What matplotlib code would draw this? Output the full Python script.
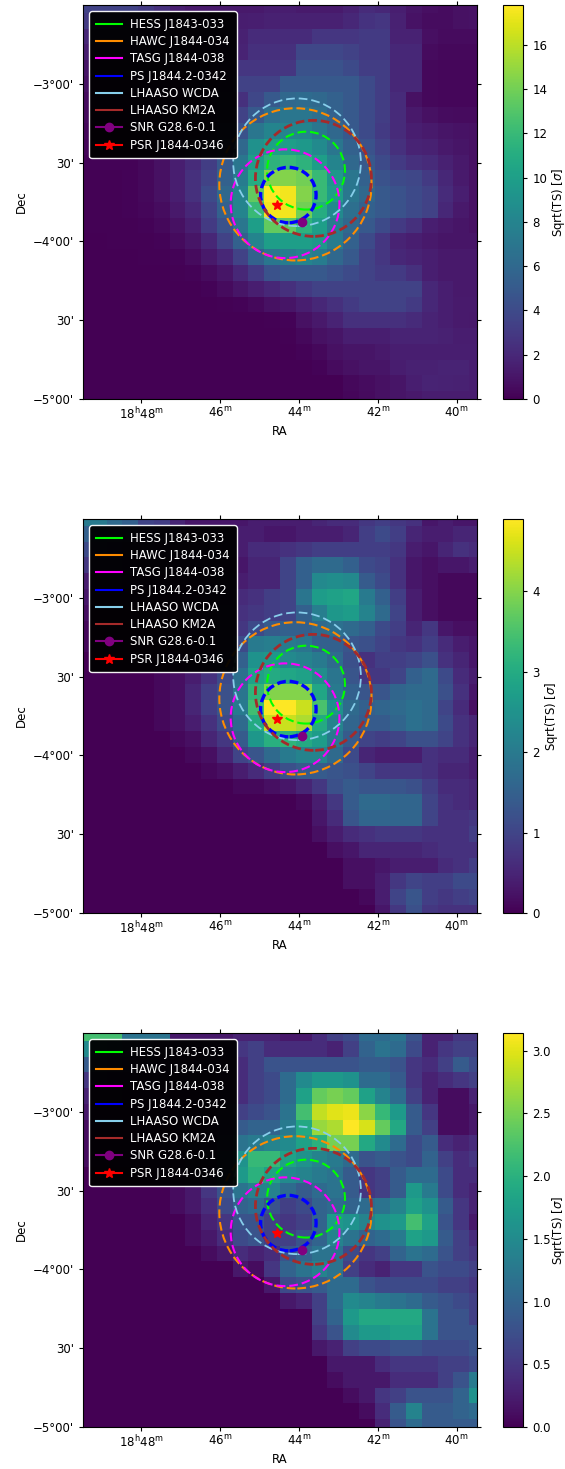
import numpy as np
import matplotlib
matplotlib.use("Agg")
import matplotlib.pyplot as plt
from matplotlib.lines import Line2D
from matplotlib.patches import Circle

# significance maps, rows top to bottom, right aligned (missing left cells are 0)
map_top = [
    [3.5,3.5,3.5,3.5,3,2.5,1.5,1.2,1.2,1.2,1.2,1.2,1.4,1.4,1.3,1.3,1.3,1.6,2.2,2.0,1.5,1.0,.7,.6,.8,.9],
    [3,3,3,2.5,2,1.5,1.2,1.2,1.2,1.2,1.4,1.5,1.6,1.6,1.6,1.6,1.6,2.0,2.6,2.8,1.6,.9,.6,.6,.8,.9],
    [2,2,2,2,1.5,1.2,1,1,1,1.2,1.6,2.2,2.2,2.2,2.2,2.8,2.8,2.8,3,3,1.7,1.7,.7,.5,.5,.5],
    [1.5,1.5,1.5,1.5,1.2,1,1,1,1.2,1.4,1.8,2.5,2.5,2.5,3.8,3.8,3.8,3.5,3,3,2,2,.5,.4,.4,.4],
    [1,1,1,1,1,1,1,1,1.2,1.5,2.8,2.8,2.8,2.8,4.5,4.5,4.5,4,3.2,3.2,2,2,.4,.3,.3,.3],
    [.8,.8,.8,.8,.8,.8,.8,1,1.3,1.8,3.5,3.5,3.5,5,5,5,5,5,4,3.2,2,2,.4,.3,.3,.3],
    [.6,.6,.6,.6,.6,.6,.8,1,1.5,2,2.5,3.8,5,6,6.2,6,5.5,5,4,3.2,2.2,.8,.4,.3,.3,.3],
    [.5,.5,.5,.5,.5,.6,.8,1,1.5,2,3.5,5,6.5,7,7,6.5,5.5,5,4,3.2,2.2,1.2,.8,.6,.5,.5],
    [.4,.4,.4,.4,.4,.5,.8,1.2,2,3,4.5,7,8,8,8,7,6,5,4,3,2.2,1.5,1.3,1.0,.9,.8],
    [.3,.3,.3,.3,.4,.8,1.5,2,3,4,6,9,10,10,9.5,8.5,7,5.5,4.5,3.5,2.5,1.8,1.6,1.2,1,.8],
    [.2,.2,.2,.2,.4,.8,1.5,2.2,3.2,5,7,10,11.5,12,11.5,10,8,6,5,4,3,2.5,2.2,1.6,1.2,.8],
    [.1,.1,.1,.2,.4,.8,1.5,2.5,3.5,5.5,7.5,11,14.5,14.5,14,12,9.5,7,5.5,4.5,4,3.8,3,2,1.3,.8],
    [.1,.1,.1,.2,.4,.8,1.5,2.5,4,6,8,13.5,17.8,17.5,14.5,12,10,7,6,5,4.5,4,3.5,2.2,1.5,.8],
    [.1,.1,.1,.2,.3,.6,1.2,2,3.5,5.5,8,12,17.5,17.5,14,11,8.5,6.5,5.5,5,4.5,4,3.5,2,1.2,.8],
    [.1,.1,.1,.1,.2,.4,.8,1.5,3,4.5,7,10,13.5,13.5,11.5,10,7.5,6,5,4,3,2.5,1.5,1.2,1,.8],
    [0,0,.1,.1,.1,.2,.5,1,2,3.5,5.5,8,10,10,10,9.5,7.5,5.5,4,2.8,1.8,1.5,1.2,1,1,1],
    [0,0,0,0,.1,.1,.2,.5,1.2,2,3.5,5.5,7,7.5,8,7.5,6,5,3.5,2.8,2,1.8,1.5,1.2,1.2,1.2],
    [0,0,0,0,0,0,.1,.2,.5,1,2,3,4.5,5,5,5,4.5,4,3.5,3,3,2.5,1.5,1.2,1.2,1.2],
    [0,0,0,0,0,0,0,0,.2,.5,1,1.5,2,2.5,3,3.5,3.5,3.5,3.5,3.5,3.5,3.5,2,1.5,1.2,1.2],
    [.1,.2,.4,.8,1,1.5,2,2.5,3,3.5,3.5,3.5,3,2,1.5,1.3,1.3],
    [.1,.2,.8,1.2,1.8,2.5,2.5,2.5,2.5,2.2,1.8,1.5,1.3,1.2],
    [.1,.4,.8,1,1.5,1.5,1.5,1.8,1.8,1.8,1.6,1.4,1.4],
    [.2,.4,.8,1,1,1.2,1.5,1.5,1.5,1.5,1.5,1.5],
    [.2,.5,.8,1,1,1.4,1.6,1.6,1.8,1.8,1.5],
    [.4,.6,.8,1,1.5,1.8,1.7,1.6,1.5],
    [.3,.5,.8,1,1.2,1.4,1.4,1.4,1.4],
]

map_mid = [
    [2.0,2.0,1.7,1.5,1,.9,.5,.3,.3,.3,.3,.4,.4,.4,.4,.5,.6,.6,.8,.9,.8,.7,.3,.4,.3,.3],
    [1.5,1.4,1.2,1,.8,.6,.4,.3,.3,.3,.4,.4,.3,.3,.4,.4,.4,.5,.9,1.1,.9,.5,.4,.4,.5,.5],
    [1.1,1,.8,.7,.5,.4,.3,.3,.3,.3,.4,.6,.6,.7,.8,.9,.9,.9,.9,.9,.8,.4,.3,.5,.7,.6],
    [.8,.6,.5,.4,.3,.3,.2,.2,.2,.2,.3,.5,.5,1,1.5,1.7,1.7,1.5,1.1,1,.7,.3,.2,.3,.3,.4],
    [.4,.3,.3,.2,.2,.2,.2,.2,.2,.3,.4,.5,.5,1,1.5,2.3,2.4,2.3,1.4,1.1,.7,.3,.2,.1,.1,.1],
    [.3,.2,.2,.2,.1,.1,.1,.2,.3,.4,.6,.7,.9,1,1.9,2.7,2.8,2.9,2.0,1.5,.9,.4,.2,.1,.1,.1],
    [.2,.1,.1,.1,.1,.1,.1,.2,.3,.5,.7,.8,.9,1,1.5,2.1,2.6,2.7,2.2,1.7,1.0,.4,.2,.1,.1,.1],
    [.1,.1,.1,.1,.1,.1,.1,.2,.3,.5,.8,1.1,1.4,1.5,1.5,1.7,1.8,1.7,1.5,1.1,.9,.5,.8,.3,.2,.2],
    [.1,.1,.1,.1,.1,.1,.1,.2,.3,.6,1.1,2.0,2.1,2,1.9,1.5,1.5,1.3,1.2,1.0,.8,.7,.9,.6,.4,.3],
    [0,0,0,0,.1,.1,.2,.3,.5,.9,1.5,2.5,2.6,2.3,2.2,2,1.7,1.2,.7,.9,.9,1,1.2,.7,.5,.3],
    [0,0,0,0,0,.1,.2,.4,.7,1.1,1.8,2.8,3,2.9,2.8,2.4,1.9,1.3,.8,.8,1,1.5,1.7,1.1,.6,.4],
    [0,0,0,0,0,.1,.2,.5,.9,1.2,1.9,3.2,4.0,4.0,4.0,2.9,2.0,1.5,1.3,1.3,1.6,1.7,1.7,1.2,.7,.3],
    [0,0,0,0,0,.1,.2,.5,.9,1.3,2,3.4,4.9,4.9,4.5,3.5,2.5,1.7,1.5,1.6,1.7,1.8,1.7,1.0,.6,.2],
    [0,0,0,0,0,.1,.2,.4,.7,1.1,1.7,3.0,4.5,4.5,4.3,3,2.2,1.6,1.4,1.4,1.6,1.8,1.7,1.1,.7,.5],
    [0,0,0,0,0,0,.1,.2,.5,.8,1.4,2.6,3.1,3.2,3,2.7,2,1.4,1,.9,1.0,1.2,1.2,1,.7,.5],
    [0,0,0,0,0,0,0,.1,.2,.5,1,1.3,1.7,2.0,2.2,2.2,1.7,1.1,.5,.4,.4,.4,.7,.6,.6,.4],
    [0,0,0,0,0,0,0,0,.1,.2,.4,.6,.9,1.2,1.4,1.4,1.3,1.2,1,.8,.8,.8,.7,.5,.5,.4],
    [.1,.1,.2,.3,.5,.8,1.2,1.4,1.3,1.3,1.3,1.2,.9,.6,.6,.5],
    [.1,.4,.8,1.4,1.7,1.7,1.6,1.6,1,.7,.6,.5],
    [.3,.6,1.3,1.6,1.6,1.6,1.6,1,.7,.7,.8],
    [.2,.4,.6,.7,.8,.8,.8,.7,.7,.7,.9],
    [.2,.3,.5,.5,.5,.5,.6,.7,.7,.7],
    [.2,.2,.3,.4,.4,.4,.6,.7,.9],
    [.2,.2,.4,.8,1,.9,.9,1.1,1.1],
    [.1,.4,1,1.3,.9,.8,.9,1],
    [.3,.8,1.2,.8,.7,.7,.7],
]

map_low = [
    [2.2,2.2,2.2,1.2,1.2,1.2,.2,.2,.2,.2,.3,.3,.3,.2,.2,.4,.6,.7,1.1,1.1,1.2,.8,.3,.3,.5,.5],
    [1.5,1.2,1,.8,.6,.4,.3,.3,.3,.3,.5,.6,.4,.4,.4,.4,.3,.6,1,1.2,1.1,.7,.3,.5,.6,.6],
    [.9,.8,.6,.5,.4,.3,.3,.3,.3,.3,.4,.6,.8,.8,.8,.8,.8,.8,.9,.9,.8,.5,.4,.6,.9,.7],
    [.5,.4,.3,.3,.2,.2,.2,.2,.2,.3,.4,.6,.7,1.1,1.5,1.7,1.7,1.6,1.1,1.1,.9,.5,.3,.4,.5,.6],
    [.3,.2,.2,.1,.1,.1,.1,.1,.2,.3,.4,.6,.7,1.1,1.8,2.4,2.5,2.4,1.8,1.4,1.1,.6,.3,.1,.1,.3],
    [.2,.1,.1,.1,.1,.1,.1,.1,.2,.4,.6,.7,.8,1.2,2.2,2.85,3,3.05,2.6,2.1,1.7,.9,.5,.1,.1,.2],
    [.1,.1,.1,.1,.1,.1,.1,.2,.3,.5,.9,1,1,1.3,1.9,2.65,2.75,3.14,2.95,2.4,1.9,.9,.6,.1,.1,.2],
    [.1,.1,.1,.1,.1,.1,.1,.2,.3,.6,1.2,1.3,1.4,1.5,1.8,2.0,2.5,2.5,1.9,1.5,1.1,.7,.9,.4,.3,.4],
    [.1,.1,.1,.1,.1,.1,.1,.2,.4,.9,1.6,2.1,2.1,1.8,1.6,1.4,1.3,1.1,.8,.9,.8,.7,1,.6,.4,.5],
    [0,0,0,0,0,.1,.1,.2,.5,.9,1.7,2.0,1.8,1.5,1.4,1.3,1.2,.9,.5,.6,.9,1.1,1.1,.7,.4,.4],
    [0,0,0,0,0,0,.1,.2,.5,.8,1.2,1.4,1.4,1.1,.9,1.1,1.2,.9,.5,.6,.9,1.7,1.3,.7,.4,.3],
    [0,0,0,0,0,0,.1,.2,.4,.7,1,1.1,.8,.6,.7,1,1.1,1,1.1,1.2,1.4,1.8,1.6,.9,.5,.3],
    [0,0,0,0,0,0,0,.1,.3,.5,.8,.8,.6,.5,.6,1,1.7,1.6,1.4,1.6,1.7,2.2,1.8,.8,.5,.2],
    [0,0,0,0,0,0,0,.1,.2,.4,.7,.8,.6,.6,.8,1,1.4,1.2,1,1.1,1.3,1.8,1.7,.9,.6,.4],
    [0,0,0,0,0,0,0,0,.1,.2,.4,.3,.4,.8,1,1.2,1.2,.7,.5,.6,1,1.2,1.1,.8,.6,.5],
    [0,0,0,0,0,0,0,0,0,0,.2,.1,.5,1,1.2,1.4,1.2,.6,.4,.3,.5,.5,.8,.7,.7,.6],
    [.2,.7,.8,.9,1.1,1.1,.8,.7,.7,.7,.7,.6,.6,.5],
    [.2,.3,.6,1.1,1.5,1.4,1.3,1.2,1.1,.9,.8,.7,.6],
    [.6,1,1.7,1.9,1.9,1.9,1.9,1.2,.8,.8,.6],
    [.5,.8,1.5,1.7,1.7,1.8,1.8,1.2,.8,.8,.8],
    [.2,.3,.6,.7,.7,.8,.8,.7,.7,.7,.8],
    [.2,.2,.2,.4,.5,.5,.5,.6,.6,.7],
    [.1,.2,.2,.2,.4,.4,.4,.6,.8,1.3],
    [.1,.2,.5,.6,.8,.8,.8,1,1.6],
    [.1,.4,.9,1.4,.9,.9,1,1.1],
    [.3,.8,1.1,.9,.9,.9,.9],
]

# sources
circle_names = ["HESS J1843-033", "HAWC J1844-034", "TASG J1844-038",
                "PS J1844.2-0342", "LHAASO WCDA", "LHAASO KM2A"]
circle_ra = [280.955, 281.022, 281.088, 281.067, 281.012, 280.908]
circle_dec = [-3.551, -3.638, -3.761, -3.706, -3.498, -3.600]
circle_radius = [0.247, 0.483, 0.345, 0.176, 0.405, 0.368]
circle_colors = ["lime", "darkorange", "magenta", "blue", "skyblue", "brown"]
circle_widths = [1.5, 1.5, 1.5, 2.4, 1.3, 2.0]

snr_ra, snr_dec = 280.982, -3.877
psr_ra, psr_dec = 281.139, -3.771

ra_ticks = [282, 281.5, 281, 280.5, 280]
ra_labels = ["18$^{\\mathrm{h}}$48$^{\\mathrm{m}}$", "46$^{\\mathrm{m}}$", "44$^{\\mathrm{m}}$",
             "42$^{\\mathrm{m}}$", "40$^{\\mathrm{m}}$"]
dec_ticks = [-3, -3.5, -4, -4.5, -5]
dec_labels = ["\u22123\u00b000'", "30'", "\u22124\u00b000'", "30'", "\u22125\u00b000'"]

panel_tops = [5, 519, 1033]
cbar_ticks = [list(range(0, 17, 2)), [0, 1, 2, 3, 4], [0, .5, 1, 1.5, 2, 2.5, 3]]
cbar_labels = [[str(t) for t in cbar_ticks[0]], [str(t) for t in cbar_ticks[1]],
               ["0.0", "0.5", "1.0", "1.5", "2.0", "2.5", "3.0"]]
cbar_pads = [2, 2, -1]

W, H = 565, 1469
FS = 8.5


def to_grid(rows):
    return np.array([[0.0] * (26 - len(r)) + list(r) for r in rows])


def draw_panel(fig, rows, top, ticks, tick_labels, pad):
    grid = to_grid(rows)
    ax = fig.add_axes([83 / W, 1 - (top + 394) / H, 394 / W, 394 / H])
    im = ax.imshow(grid, cmap="viridis", vmin=0, vmax=grid.max(), origin="upper",
                   extent=(282.42, 279.82, -5.05, -2.45), interpolation="nearest", aspect="auto")
    ax.set_xlim(282.37, 279.87)
    ax.set_ylim(-5.0, -2.5)

    for i in range(len(circle_names)):
        lw = circle_widths[i]
        ax.add_patch(Circle((circle_ra[i], circle_dec[i]), circle_radius[i], fill=False,
                            edgecolor=circle_colors[i], linewidth=lw,
                            linestyle=(0, (6.3 / lw, 2.8 / lw))))
    ax.plot(snr_ra, snr_dec, "o", color="purple", ms=6)
    ax.plot(psr_ra, psr_dec, "*", color="red", ms=7)

    ax.set_xticks(ra_ticks, ra_labels)
    ax.set_yticks(dec_ticks, dec_labels)
    ax.tick_params(direction="out", length=3.2, width=0.8, labelsize=FS,
                   top=True, right=True, bottom=True, left=True)
    ax.tick_params(axis="x", pad=2)
    ax.set_xlabel("RA", fontsize=FS, labelpad=2)
    ax.set_ylabel("Dec", fontsize=FS, labelpad=3)

    handles = [Line2D([], [], color=c, lw=1.5) for c in circle_colors]
    handles.append(Line2D([], [], color="purple", lw=1.5, marker="o", ms=6))
    handles.append(Line2D([], [], color="red", lw=1.5, marker="*", ms=7))
    names = circle_names + ["SNR G28.6-0.1", "PSR J1844-0346"]
    leg = ax.legend(handles, names, loc="upper left", fontsize=FS, facecolor="black",
                    edgecolor="white", framealpha=0.95, labelcolor="white",
                    labelspacing=0.36, handlelength=2.2, handletextpad=0.72,
                    borderpad=0.55, borderaxespad=0.55)
    leg.get_frame().set_linewidth(1.0)

    cax = fig.add_axes([503 / W, 1 - (top + 394) / H, 20 / W, 394 / H])
    cb = fig.colorbar(im, cax=cax)
    cb.set_ticks(ticks, labels=tick_labels)
    cb.ax.tick_params(labelsize=FS, length=3.2, width=0.8)
    cb.set_label("Sqrt(TS) [$\\sigma$]", fontsize=FS, labelpad=pad)


def main():
    fig = plt.figure(figsize=(W / 100, H / 100), dpi=100)
    maps = [map_top, map_mid, map_low]
    for i in range(3):
        draw_panel(fig, maps[i], panel_tops[i], cbar_ticks[i], cbar_labels[i], cbar_pads[i])
    fig.savefig("out.png", dpi=100)


if __name__ == "__main__":
    main()
